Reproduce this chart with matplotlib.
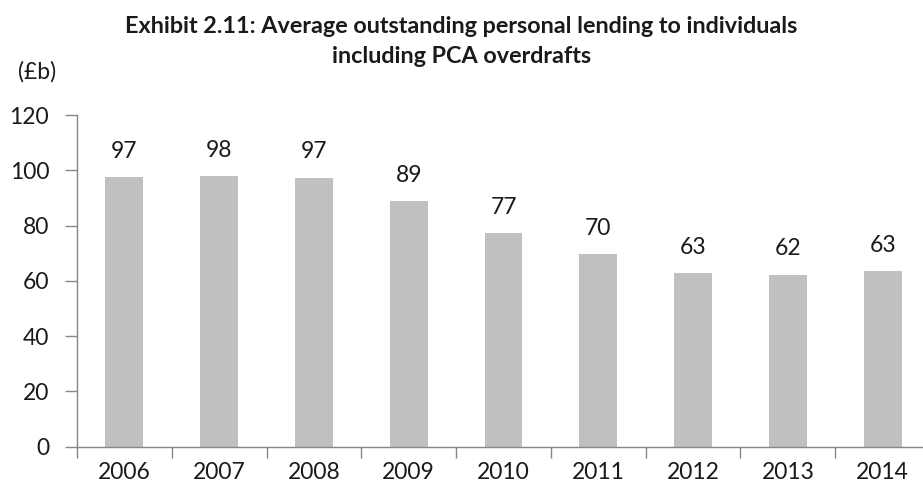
import numpy as np
import matplotlib.pyplot as plt
from matplotlib.ticker import MultipleLocator, FixedLocator

plt.rcParams['font.family'] = ['Lato', 'DejaVu Sans']

years = ['2006', '2007', '2008', '2009', '2010', '2011', '2012', '2013', '2014']
lending = [97.4, 97.9, 97.3, 88.9, 77.3, 69.6, 62.7, 62.2, 63.4]
title_lines = ['Exhibit 2.11: Average outstanding personal lending to individuals',
               'including PCA overdrafts']

fig = plt.figure(figsize=(9.23, 4.94), dpi=100)
# axes run a little past the right edge, like the source layout
ax = fig.add_axes([77 / 923, 1 - 446.7 / 494, 853 / 923, (446.7 - 115) / 494])

x = np.arange(len(years))
bars = ax.bar(x, lending, width=0.4, color='#C0C0C0', zorder=2)

for xi, v in zip(x, lending):
    ax.annotate(f'{v:.0f}', (xi, v), xytext=(0, 11), textcoords='offset points',
                ha='center', va='bottom', fontsize=16.5, color='#1a1a1a')

ax.set_xlim(-0.5, len(years) - 0.5)
ax.set_ylim(0, 120)

# y 轴
ax.yaxis.set_major_locator(MultipleLocator(20))
ax.tick_params(axis='y', direction='out', length=9, width=1, color='#868686',
               labelsize=16.5, pad=11, labelcolor='#1a1a1a')

# x 轴: 刻度在类别之间, 标签在类别中心
ax.xaxis.set_major_locator(FixedLocator(np.arange(len(years) + 1) - 0.5))
ax.xaxis.set_minor_locator(FixedLocator(x))
ax.set_xticklabels([''] * (len(years) + 1))
ax.set_xticklabels(years, minor=True)
ax.tick_params(axis='x', which='major', direction='out', length=8, width=1, color='#868686')
ax.tick_params(axis='x', which='minor', length=0, labelsize=16.5, pad=11, labelcolor='#1a1a1a')

for side in ['top', 'right']:
    ax.spines[side].set_visible(False)
for side in ['left', 'bottom']:
    ax.spines[side].set_color('#868686')
    ax.spines[side].set_linewidth(1)

# 标题两行分开放, 按基线定位
for i, line in enumerate(title_lines):
    fig.text(0.5, 1 - (33 + 30 * i) / 494, line, ha='center', va='baseline',
             fontsize=16.8, fontweight='bold', color='#1a1a1a')
fig.text(18 / 923, 1 - 72 / 494, '(£b)', ha='left', va='center', fontsize=16.5, color='#1a1a1a')

fig.savefig('out.png', dpi=100)
